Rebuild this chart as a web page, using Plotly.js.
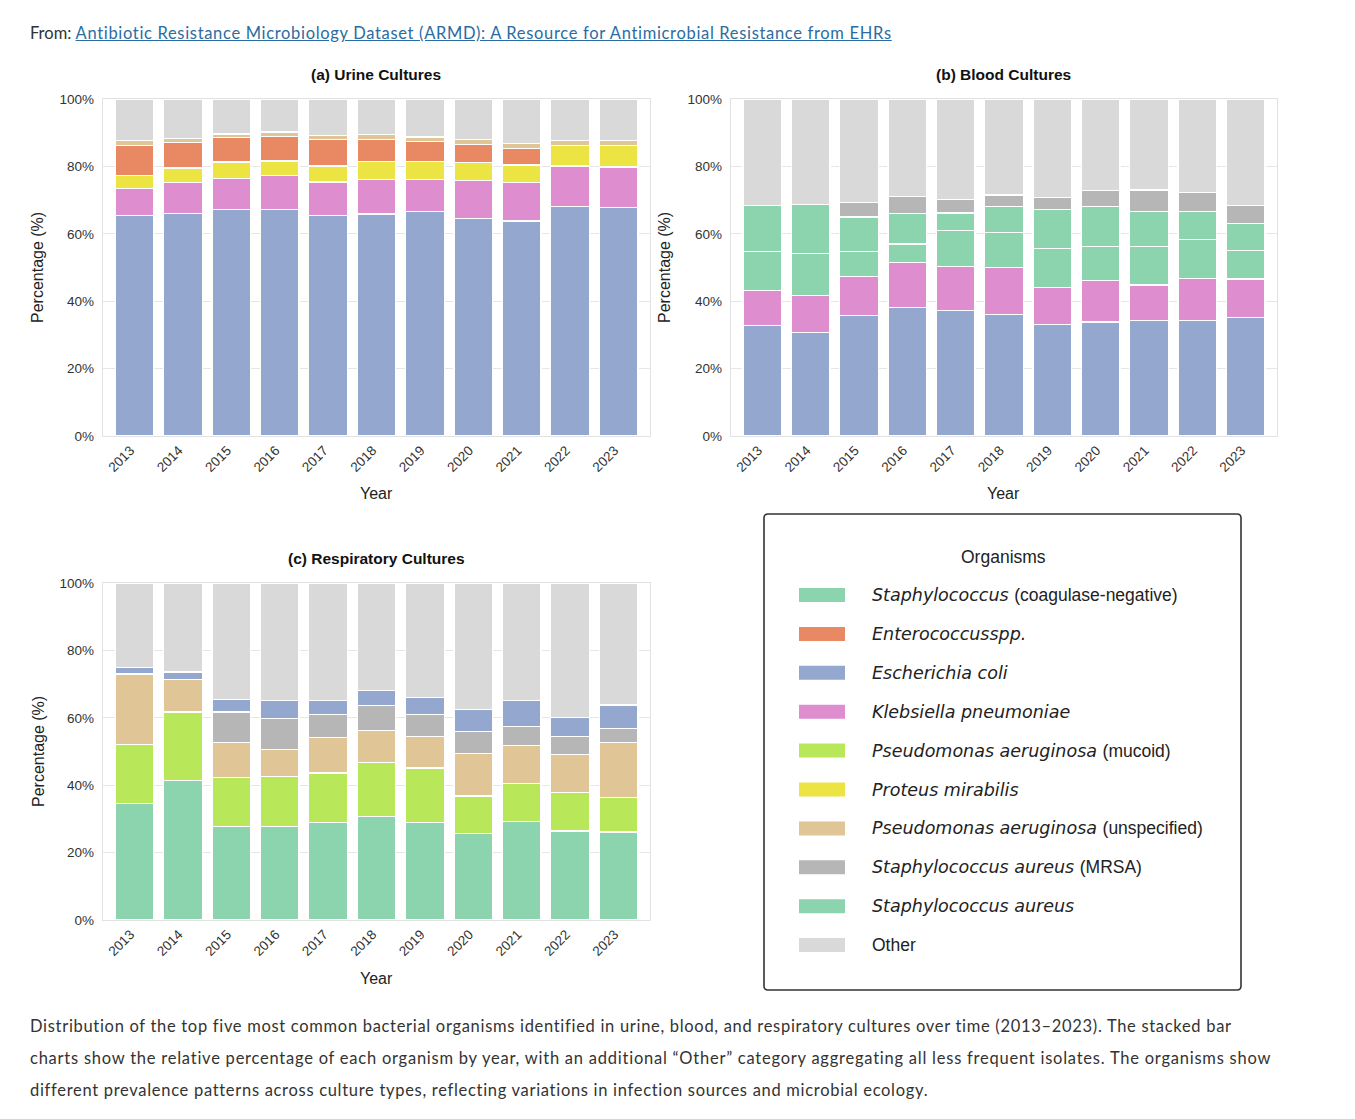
<!DOCTYPE html>
<html>
<head>
<meta charset="utf-8">
<script src="https://cdn.plot.ly/plotly-3.0.1.min.js"></script>
<style>
  html, body { margin:0; padding:0; background:#fff; width:1355px; height:1119px; overflow:hidden; }
  #plot { position:absolute; left:0; top:0; width:1355px; height:1119px; }
  .txt { position:absolute; font-family:Lato, "Open Sans", sans-serif; color:#333; white-space:nowrap; z-index:5; }
  .line { display:inline-block; white-space:nowrap; }
  a { color:#2b6ca3; text-decoration:underline; }
</style>
</head>
<body>
<div id="plot"></div>
<div class="txt" id="hdr" style="left:30px; top:21px; font-size:16.5px; line-height:24px;">From: <a id="lnk" class="line" href="#">Antibiotic Resistance Microbiology Dataset (ARMD): A Resource for Antimicrobial Resistance from EHRs</a></div>
<div class="txt" id="cap" style="left:30px; top:1010px; font-size:16.5px; line-height:32px;">
<span class="line" id="c1">Distribution of the top five most common bacterial organisms identified in urine, blood, and respiratory cultures over time (2013–2023). The stacked bar</span><br>
<span class="line" id="c2">charts show the relative percentage of each organism by year, with an additional “Other” category aggregating all less frequent isolates. The organisms show</span><br>
<span class="line" id="c3">different prevalence patterns across culture types, reflecting variations in infection sources and microbial ecology.</span>
</div>
<script>
// ---------------- DATA ----------------
const years = ['2013','2014','2015','2016','2017','2018','2019','2020','2021','2022','2023'];

// (a) Urine cultures (percent)
const urine_ecoli   = [65.5,66.1,67.3,67.3,65.4,65.9,66.7,64.6,63.8,68.1,67.7];
const urine_kleb    = [8.0,9.1,9.0,10.0,10.0,10.3,9.5,11.2,11.4,12.0,12.1];
const urine_proteus = [3.9,4.3,5.0,4.3,4.7,5.2,5.3,5.4,5.2,6.0,6.3];
const urine_entero  = [8.9,7.6,7.3,7.3,7.9,6.7,5.9,5.2,4.9,0,0];
const urine_pseudo  = [1.3,1.2,1.0,1.3,1.2,1.3,1.3,1.7,1.5,1.5,1.5];
const urine_other   = [12.4,11.7,10.4,9.8,10.8,10.6,11.3,11.9,13.2,12.4,12.4];

// (b) Blood cultures (percent)
const blood_ecoli   = [32.8,30.8,35.8,38.2,37.3,36.1,33.1,33.8,34.2,34.2,35.2];
const blood_kleb    = [10.4,10.8,11.5,13.3,13.0,13.9,11.0,12.4,10.6,12.6,11.4];
const blood_saureus = [11.5,12.6,7.5,5.5,10.6,10.3,11.6,10.0,11.4,11.4,8.5];
const blood_cons    = [13.7,14.4,10.2,9.1,5.3,7.9,11.5,12.0,10.5,8.3,8.0];
const blood_mrsa    = [0,0,4.2,4.9,4.0,3.3,3.6,4.7,6.3,5.7,5.3];
const blood_other   = [31.6,31.4,30.8,29.0,29.8,28.5,29.2,27.1,27.0,27.8,31.6];

// (c) Respiratory cultures (percent)
const resp_saureus  = [34.5,41.4,27.8,27.8,29.0,30.7,29.0,25.7,29.2,26.4,26.1];
const resp_mucoid   = [17.6,20.3,14.5,14.7,14.6,16.0,16.1,11.1,11.3,11.4,10.3];
const resp_unspec   = [20.9,9.7,10.3,8.2,10.6,9.6,9.4,12.6,11.3,11.2,16.3];
const resp_mrsa     = [0,0,9.1,9.1,6.8,7.4,6.5,6.6,5.7,5.5,4.1];
const resp_ecoli    = [1.9,2.2,3.7,5.4,4.2,4.3,5.1,6.4,7.7,5.6,7.0];
const resp_other    = [25.1,26.4,34.6,34.8,34.8,32.0,33.9,37.6,34.8,39.9,36.2];

const yticks = [0,20,40,60,80,100];

// legend entries
const legend_keys = ['cons','entero','ecoli','kleb','mucoid','proteus','unspec','mrsa','saureus','other'];
const NS = '<span style="font-family:\'Liberation Sans\';font-size:17.5px">';
const legend_labels = [
  '<i>Staphylococcus</i> ' + NS + '(coagulase-negative)</span>',
  '<i>Enterococcusspp.</i>',
  '<i>Escherichia coli</i>',
  '<i>Klebsiella pneumoniae</i>',
  '<i>Pseudomonas aeruginosa</i> ' + NS + '(mucoid)</span>',
  '<i>Proteus mirabilis</i>',
  '<i>Pseudomonas aeruginosa</i> ' + NS + '(unspecified)</span>',
  '<i>Staphylococcus aureus</i> ' + NS + '(MRSA)</span>',
  '<i>Staphylococcus aureus</i>',
  NS + 'Other</span>'
];

// ---------------- STYLE ----------------
const COL = {
  cons:'#8BD4AE', entero:'#E88963', ecoli:'#93A7CF', kleb:'#DE8ECE', mucoid:'#B8E85A',
  proteus:'#ECE442', unspec:'#E0C696', mrsa:'#B6B6B6', saureus:'#8BD4AE', other:'#D9D9D9'
};
const W = 1355, H = 1119;
const px = v => v / W;
const py = v => 1 - v / H;

function bar(y, key, xa, ya) {
  return {
    type:'bar', x: years, y: y, xaxis: xa, yaxis: ya, width: 0.8,
    marker:{ color: COL[key], line:{ color:'#ffffff', width:1.2 } },
    showlegend:false, hoverinfo:'skip'
  };
}

const traces = [
  bar(urine_ecoli,'ecoli','x','y'),
  bar(urine_kleb,'kleb','x','y'),
  bar(urine_proteus,'proteus','x','y'),
  bar(urine_entero,'entero','x','y'),
  bar(urine_pseudo,'unspec','x','y'),
  bar(urine_other,'other','x','y'),

  bar(blood_ecoli,'ecoli','x2','y2'),
  bar(blood_kleb,'kleb','x2','y2'),
  bar(blood_saureus,'saureus','x2','y2'),
  bar(blood_cons,'cons','x2','y2'),
  bar(blood_mrsa,'mrsa','x2','y2'),
  bar(blood_other,'other','x2','y2'),

  bar(resp_saureus,'saureus','x3','y3'),
  bar(resp_mucoid,'mucoid','x3','y3'),
  bar(resp_unspec,'unspec','x3','y3'),
  bar(resp_mrsa,'mrsa','x3','y3'),
  bar(resp_ecoli,'ecoli','x3','y3'),
  bar(resp_other,'other','x3','y3')
];

const FONT = 'Liberation Sans, Arial, sans-serif';
function xax(l, r, anchor) {
  return {
    domain:[px(l), px(r)], anchor: anchor, type:'category', range:[-0.65, 10.65],
    tickangle:-45, tickfont:{ family:FONT, size:13.5, color:'#333' },
    ticklabelshift:-4,
    showline:true, mirror:true, linecolor:'#e2e2e2', linewidth:1.3,
    showgrid:false, ticks:'', zeroline:false, fixedrange:true
  };
}
function yax(t, b, anchor) {
  return {
    domain:[py(b), py(t)], anchor: anchor, range:[0,100], tickvals: yticks,
    ticktext: yticks.map(v => v + '%'),
    tickfont:{ family:FONT, size:13.5, color:'#333' },
    showline:true, mirror:true, linecolor:'#e2e2e2', linewidth:1.3,
    gridcolor:'#e6e6e6', gridwidth:1, zeroline:false, ticks:'', ticklabelstandoff:5, fixedrange:true
  };
}

const annotations = [];
function ann(text, x, y, opts) {
  annotations.push(Object.assign({
    text: text, x: px(x), y: py(y), xref:'paper', yref:'paper', showarrow:false,
    xanchor:'center', yanchor:'middle', font:{ family:FONT, size:15, color:'#222' }
  }, opts || {}));
}
// panel titles
const TF = { family:FONT, size:15.5, color:'#111' };
ann('<b>(a) Urine Cultures</b>', 376, 74, { font:TF });
ann('<b>(b) Blood Cultures</b>', 1003, 74, { font:TF });
ann('<b>(c) Respiratory Cultures</b>', 376, 558, { font:TF });
// axis titles
const AF = { family:FONT, size:16, color:'#222' };
ann('Year', 376, 494, { font:AF });
ann('Year', 1003, 494, { font:AF });
ann('Year', 376, 978, { font:AF });
ann('Percentage (%)', 38, 268, { textangle:-90, font:AF });
ann('Percentage (%)', 665, 268, { textangle:-90, font:AF });
ann('Percentage (%)', 38, 752, { textangle:-90, font:AF });

// legend
const shapes = [];
const bx0 = 764, bx1 = 1241, by0 = 514, by1 = 990, r = 4;
shapes.push({
  type:'path', xref:'paper', yref:'paper',
  path: `M ${px(bx0+r)} ${py(by0)} L ${px(bx1-r)} ${py(by0)} Q ${px(bx1)} ${py(by0)} ${px(bx1)} ${py(by0+r)} ` +
        `L ${px(bx1)} ${py(by1-r)} Q ${px(bx1)} ${py(by1)} ${px(bx1-r)} ${py(by1)} ` +
        `L ${px(bx0+r)} ${py(by1)} Q ${px(bx0)} ${py(by1)} ${px(bx0)} ${py(by1-r)} ` +
        `L ${px(bx0)} ${py(by0+r)} Q ${px(bx0)} ${py(by0)} ${px(bx0+r)} ${py(by0)} Z`,
  line:{ color:'#333', width:1.6 }, fillcolor:'rgba(255,255,255,0)'
});
ann('Organisms', 1003, 557, { font:{ family:FONT, size:17.5, color:'#222' } });
const legY0 = 595, legStep = 38.9;
legend_keys.forEach((k, i) => {
  const yc = legY0 + i * legStep;
  shapes.push({ type:'rect', xref:'paper', yref:'paper', x0:px(799), x1:px(845),
    y0:py(yc+7), y1:py(yc-7), fillcolor:COL[k], line:{ width:0 } });
  ann(legend_labels[i], 870, yc, { xanchor:'left', font:{ family:'DejaVu Sans, sans-serif', size:17.5, color:'#222' } });
});

const layout = {
  width:W, height:H, margin:{ l:0, r:0, t:0, b:0 },
  paper_bgcolor:'#fff', plot_bgcolor:'#fff', barmode:'stack', bargap:0.2,
  showlegend:false,
  xaxis: xax(103, 650, 'y'), yaxis: yax(99, 436, 'x'),
  xaxis2: xax(731, 1277, 'y2'), yaxis2: yax(99, 436, 'x2'),
  xaxis3: xax(103, 650, 'y3'), yaxis3: yax(583, 920, 'x3'),
  annotations: annotations, shapes: shapes
};

Plotly.newPlot('plot', traces, layout, { displayModeBar:false, staticPlot:true });

// fit the HTML text lines to the reference widths
function fit(id, target) {
  const el = document.getElementById(id);
  el.style.letterSpacing = '0px';
  const w = el.getBoundingClientRect().width;
  const n = el.textContent.length;
  el.style.letterSpacing = ((target - w) / n) + 'px';
}
function fitAll() {
  fit('lnk', 817);
  fit('c1', 1202);
  fit('c2', 1242);
  fit('c3', 898);
}
fitAll();
if (document.fonts && document.fonts.ready) document.fonts.ready.then(fitAll);
</script>
</body>
</html>
